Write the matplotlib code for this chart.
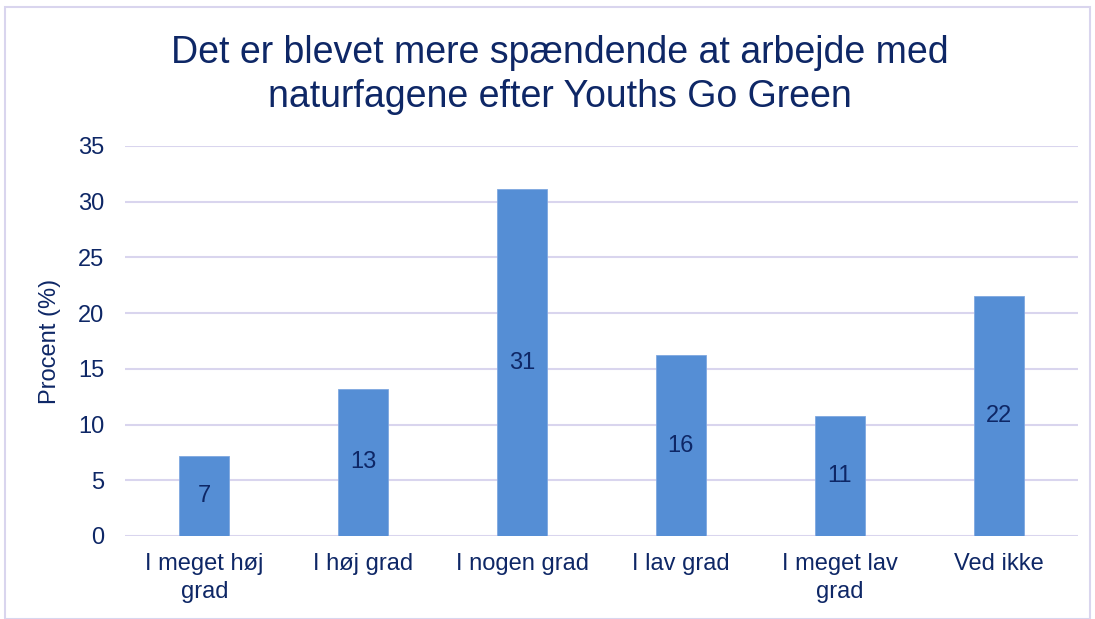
import matplotlib.pyplot as plt
from matplotlib.patches import Rectangle

kategorier = ["I meget høj\ngrad", "I høj grad", "I nogen grad", "I lav grad",
              "I meget lav\ngrad", "Ved ikke"]
procent = [7.2, 13.2, 31.1, 16.2, 10.8, 21.5]
etiketter = ["7", "13", "31", "16", "11", "22"]
y_ticks = [0, 5, 10, 15, 20, 25, 30, 35]

navy = "#0e2766"
bar_farve = "#558ed5"
grid_farve = "#d9d5ee"

plt.rcParams['font.family'] = ['Liberation Sans', 'DejaVu Sans']

fig = plt.figure(figsize=(10.95, 6.19), dpi=100)
ax = fig.add_axes([125 / 1095, 1 - 536 / 619, (1078 - 125) / 1095, (536 - 146) / 619])

x = range(len(kategorier))
bars = ax.bar(x, procent, width=0.315, color=bar_farve, edgecolor="#7fa8e0",
              linewidth=0.6, zorder=3)
for b, lab in zip(bars, etiketter):
    ax.text(b.get_x() + b.get_width() / 2, b.get_height() / 2, lab,
            ha="center", va="center", fontsize=17, color=navy, zorder=4)

ax.set_xlim(-0.5, len(kategorier) - 0.5)
ax.set_ylim(0, 35)
ax.set_yticks(y_ticks)
ax.set_xticks(list(x))
ax.set_xticklabels(kategorier, fontsize=17, color=navy, linespacing=1.35)
ax.tick_params(axis="y", labelsize=17, labelcolor=navy, length=0, pad=15)
ax.tick_params(axis="x", length=0, pad=12)
ax.grid(axis="y", color=grid_farve, linewidth=1.5, zorder=0)
for s in ax.spines.values():
    s.set_visible(False)
ax.set_ylabel("Procent (%)", fontsize=17, color=navy, labelpad=12)

fig.text(560 / 1095, 1 - 75 / 619,
         "Det er blevet mere spændende at arbejde med\nnaturfagene efter Youths Go Green",
         ha="center", va="center", fontsize=27, color=navy, linespacing=1.3)

fig.patches.append(Rectangle((5 / 1095, 0), 1085 / 1095, 1 - 7 / 619,
                             transform=fig.transFigure, fill=False,
                             edgecolor=grid_farve, linewidth=1.5))

fig.savefig("out.png", dpi=100)
